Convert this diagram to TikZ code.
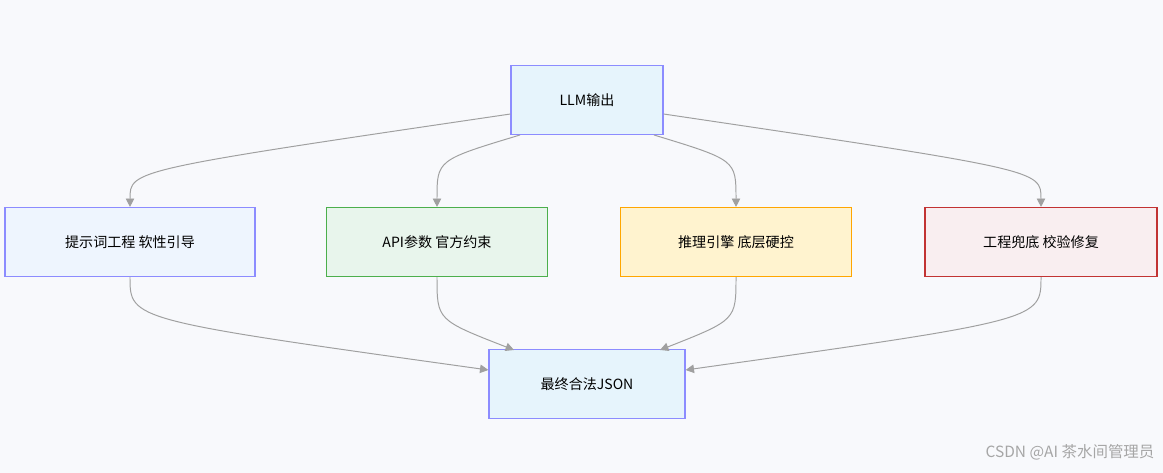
\documentclass[tikz,border=0pt]{standalone}
\usepackage{fontspec}
\setmainfont{Noto Sans CJK SC}
\usetikzlibrary{arrows.meta}
\definecolor{bgc}{HTML}{F8F9FC}
\definecolor{edgec}{HTML}{A0A0A0}
\tikzset{
  box/.style={draw=#1!70!black, fill=#1, line width=0.8pt, minimum height=69*0.025cm, font=\fontsize{10}{12}\selectfont},
  link/.style={draw=edgec, line width=0.7pt, -{Triangle[length=6pt,width=6pt]}},
}
\colorlet{bluebox}{blue!8!white}
\definecolor{blueb}{HTML}{E6F4FC}
\definecolor{blueb2}{HTML}{EEF5FE}
\definecolor{greenb}{HTML}{E8F5EC}
\definecolor{yellowb}{HTML}{FFF3CF}
\definecolor{redb}{HTML}{F9EEF0}
\begin{document}
\begin{tikzpicture}[x=0.025cm,y=-0.025cm]
	\fill[bgc] (0,0) rectangle (1163,473);
	\useasboundingbox (0,0) rectangle (1163,473);

	\node[box=blueb, draw=blue!45!white, minimum width=152*0.025cm] (llm) at (587,100) {LLM输出};
	\node[box=blueb2, draw=blue!45!white, minimum width=250*0.025cm] (prompt) at (130,242) {提示词工程 软性引导};
	\node[box=greenb, draw=green!55!black!70!white, minimum width=221*0.025cm] (api) at (437,242) {API参数 官方约束};
	\node[box=yellowb, draw=orange!70!yellow, minimum width=231*0.025cm] (engine) at (736,242) {推理引擎 底层硬控};
	\node[box=redb, draw=red!70!black!80!white, minimum width=232*0.025cm] (fix) at (1041,242) {工程兜底 校验修复};
	\node[box=blueb, draw=blue!45!white, minimum width=196*0.025cm] (json) at (587,384) {最终合法JSON};

	% top fan-out
	\draw[link] (llm.west|-0,114) .. controls (130,170) .. (prompt.north);
	\draw[link] (520,135) .. controls (437,160) .. (api.north);
	\draw[link] (654,135) .. controls (736,160) .. (engine.north);
	\draw[link] (llm.east|-0,114) .. controls (1041,170) .. (fix.north);

	% bottom fan-in
	\draw[link] (prompt.south) .. controls (130,320) .. (json.west|-0,370);
	\draw[link] (api.south) .. controls (437,320) .. (514,350);
	\draw[link] (engine.south) .. controls (736,320) .. (660,350);
	\draw[link] (fix.south) .. controls (1041,320) .. (json.east|-0,370);

	\node[text=gray!70, font=\fontsize{11}{13}\selectfont] (mark) at (1070,452) {CSDN @AI 茶水间管理员};
\end{tikzpicture}
\end{document}
